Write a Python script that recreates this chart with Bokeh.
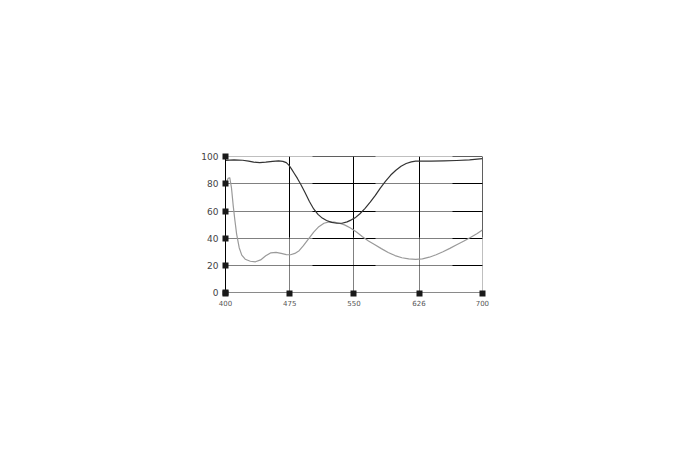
from bokeh.plotting import figure
from bokeh.models import FixedTicker, Range1d, Grid
from bokeh.embed import file_html
from bokeh.resources import INLINE

# --- data ---
dark_x = [400, 410, 420, 427, 433, 440, 447, 455, 462, 467, 471, 474, 477, 480,
          484, 488, 493, 498, 503, 508, 513, 518, 524, 530, 536, 542, 547, 552,
          557, 563, 569, 575, 581, 587, 593, 599, 605, 611, 617, 622, 628, 640,
          655, 670, 685, 700]
dark_y = [97.3, 97.6, 97.4, 96.8, 96.0, 95.6, 96.0, 96.6, 96.9, 96.6, 95.6, 93.8,
          91.0, 88.0, 84.0, 79.5, 73.5, 67.0, 61.5, 57.5, 54.8, 53.0, 51.6, 51.0,
          51.0, 52.0, 53.5, 55.3, 58.0, 62.0, 66.5, 71.5, 77.0, 82.0, 86.5, 90.0,
          93.0, 95.0, 96.2, 96.7, 96.8, 96.8, 96.9, 97.2, 97.7, 98.6]

gray_x = [401, 403, 405, 407, 409, 411, 413, 416, 419, 423, 429, 435, 441, 447,
          453, 459, 465, 471, 476, 481, 486, 491, 497, 503, 509, 515, 521, 527,
          533, 539, 546, 553, 560, 567, 574, 582, 590, 598, 606, 614, 622, 630,
          638, 646, 654, 662, 670, 678, 686, 694, 700]
gray_y = [81.0, 84.0, 84.5, 77.0, 64.0, 53.0, 43.0, 33.0, 27.5, 24.5, 23.0, 22.6,
          24.0, 27.0, 29.2, 29.6, 28.8, 27.9, 27.8, 28.8, 30.8, 34.5, 39.5, 44.5,
          48.5, 51.0, 52.0, 51.8, 51.0, 49.8, 47.5, 44.5, 41.0, 38.0, 35.3, 32.3,
          29.5, 27.2, 25.6, 24.7, 24.4, 24.8, 26.0, 27.8, 30.0, 32.5, 35.2, 37.8,
          40.5, 43.5, 46.0]

x_ticks = [400, 475, 550, 626, 700]
y_ticks = [0, 20, 40, 60, 80, 100]

p = figure(width=674, height=444, output_backend="svg", toolbar_location=None,
           min_border_left=225, min_border_right=192, min_border_top=156,
           min_border_bottom=152,
           x_range=Range1d(400, 700.15), y_range=Range1d(0, 100.15))
p.outline_line_color = None
p.background_fill_color = "white"
p.border_fill_color = "white"

# grids: dotted base layer
p.xgrid.ticker = FixedTicker(ticks=x_ticks)
p.ygrid.ticker = FixedTicker(ticks=y_ticks)
for g in (p.xgrid[0], p.ygrid[0]):
    g.grid_line_color = "black"
    g.grid_line_width = 1
    g.grid_line_dash = "1 1"

# solid overlay segments
gx = Grid(dimension=0, ticker=FixedTicker(ticks=x_ticks), grid_line_color="black",
          grid_line_width=1, grid_line_dash="0 55 100")
gy = Grid(dimension=1, ticker=FixedTicker(ticks=y_ticks), grid_line_color="black",
          grid_line_width=1, grid_line_dash="0 87 63 77 30 60")
p.add_layout(gx)
p.add_layout(gy)

# axes
xa = p.xaxis[0]
xa.ticker = FixedTicker(ticks=x_ticks)
xa.axis_line_color = "#8a8a8a"
xa.axis_line_width = 1
xa.major_tick_line_color = "#1a1a1a"
xa.major_tick_line_width = 6
xa.major_tick_in = 2
xa.major_tick_out = 4
xa.minor_tick_line_color = None
xa.major_label_text_font = "DejaVu Sans"
xa.major_label_text_font_size = "7px"
xa.major_label_text_color = "#555555"
xa.major_label_standoff = 3

ya = p.yaxis[0]
ya.ticker = FixedTicker(ticks=y_ticks)
ya.axis_line_color = "black"
ya.axis_line_width = 1
ya.major_tick_line_color = "#1a1a1a"
ya.major_tick_line_width = 6
ya.major_tick_in = 3
ya.major_tick_out = 3
ya.minor_tick_line_color = None
ya.major_label_text_font = "DejaVu Sans"
ya.major_label_text_font_size = "9px"
ya.major_label_text_color = "#444444"
ya.major_label_standoff = 4

p.line(gray_x, gray_y, line_color="#9a9a9a", line_width=1.2, line_join="round")
p.line(dark_x, dark_y, line_color="#333333", line_width=1.2, line_join="round")

open("out.html", "w").write(file_html(p, INLINE))
